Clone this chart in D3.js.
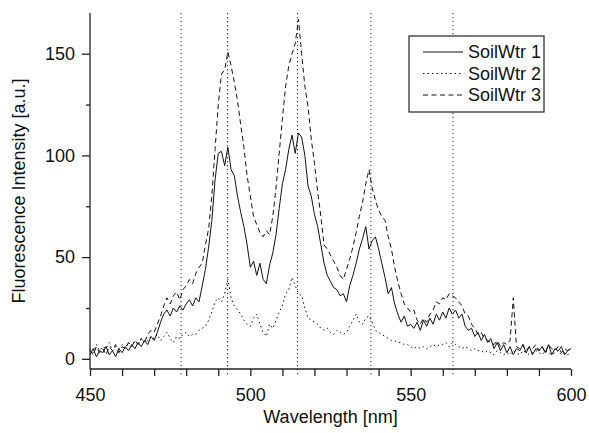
<!DOCTYPE html>
<html>
<head>
<meta charset="utf-8">
<script src="https://cdn.jsdelivr.net/npm/d3@7"></script>
<style>
  body { margin: 0; background: #fff; }
  text { font-family: "Liberation Sans", Arial, Helvetica, sans-serif; fill: #111; }
</style>
</head>
<body>
<div class="chart"></div>
<script>
// Data (wavelength grid 450..600 nm, 1 nm step)
const wavelength = d3.range(450, 601, 1);

const soilWtr1 = [
    2, 5, 1, 4, 3, 6, 2, 4, 1, 5,
    3, 6, 4, 7, 5, 8, 6, 9, 7, 11,
    9, 13, 18, 22, 24, 21, 25, 23, 26, 24,
    27, 29, 26, 30, 28, 36, 44, 55, 68, 88,
    101, 102, 95, 104, 93, 90, 80, 72, 65, 56,
    45, 48, 41, 47, 39, 37, 46, 52, 61, 74,
    86, 93, 103, 110, 101, 111, 109, 100, 85, 80,
    71, 65, 56, 47, 41, 38, 35, 34, 31, 32,
    28, 36, 41, 47, 54, 59, 65, 54, 58, 60,
    54, 47, 40, 32, 35, 27, 22, 18, 21, 16,
    17, 15, 18, 14, 19, 16, 20, 17, 22, 19,
    23, 20, 25, 22, 24, 20, 22, 16, 14, 15,
    11, 13, 9, 12, 8, 10, 5, 8, 4, 7,
    3, 6, 2, 5, 4, 7, 3, 6, 2, 5,
    4, 6, 3, 7, 2, 5, 4, 6, 2, 4,
    5
];

const soilWtr2 = [
    5, 3, 7, 4, 6, 5, 8, 4, 6, 5,
    7, 5, 8, 6, 9, 7, 10, 8, 9, 11,
    10, 12, 9, 11, 13, 10, 8, 11, 10, 12,
    13, 11, 12, 12, 14, 15, 16, 19, 23, 28,
    30, 28, 32, 39, 30, 26, 24, 22, 19, 17,
    16, 20, 22, 17, 13, 11, 17, 15, 19, 23,
    26, 32, 34, 40, 36, 32, 31, 25, 20, 19,
    18, 17, 15, 14, 15, 13, 12, 14, 13, 12,
    13, 16, 19, 22, 18, 17, 20, 21, 18, 14,
    13, 12, 11, 10, 9, 9, 8, 8, 7, 7,
    6, 5, 6, 5, 6, 5, 6, 7, 6, 7,
    7, 8, 6, 8, 7, 6, 5, 6, 5, 4,
    5, 4, 4, 3, 4, 3, 2, 4, 3, 2,
    3, 2, 4, 3, 2, 4, 3, 2, 3, 4,
    3, 2, 4, 3, 2, 3, 4, 2, 3, 2,
    3
];

const soilWtr3 = [
    4, 2, 6, 3, 5, 2, 6, 4, 7, 3,
    6, 5, 8, 6, 9, 7, 10, 8, 12, 14,
    13, 17, 21, 26, 30, 27, 31, 33, 29, 34,
    36, 39, 37, 42, 45, 47, 56, 64, 80, 103,
    125, 140, 142, 151, 144, 136, 127, 115, 104, 90,
    80, 70, 66, 62, 60, 63, 61, 70, 84, 101,
    118, 134, 144, 150, 155, 167, 150, 134, 124, 108,
    96, 82, 70, 56, 54, 51, 48, 45, 41, 39,
    44, 49, 55, 62, 70, 77, 86, 93, 84, 78,
    73, 70, 68, 60, 54, 45, 38, 32, 27, 25,
    23, 24, 19, 17, 20, 18, 22, 24, 28, 27,
    30, 29, 32, 31, 30, 28, 26, 22, 21, 17,
    15, 12, 13, 10, 9, 8, 7, 9, 6, 8,
    7, 9, 30, 6, 5, 7, 4, 6, 5, 7,
    4, 6, 3, 7, 5, 4, 6, 3, 5, 4,
    6
];

const seriesNames = ["SoilWtr 1", "SoilWtr 2", "SoilWtr 3"];
const seriesDash  = [null, "1.5,3", "5,3.5"];

// vertical reference lines (nm)
const markers = [478.4, 492.9, 514.7, 537.6, 563.2];

const xTicks = [450, 500, 550, 600];
const yTicks = [0, 50, 100, 150];

// Constants
const W = 589, H = 433;
const margin = { top: 13, right: 18, bottom: 64, left: 90 },
    width = W - margin.left - margin.right,
    height = H - margin.top - margin.bottom;

const x = d3.scaleLinear().domain([450, 600]).range([0, width]);
const y = d3.scaleLinear().domain([-5, 170]).range([height, 0]);

const svg = d3.select(".chart").append("svg")
    .attr("width", W)
    .attr("height", H)
    .append("g")
    .attr("transform", "translate(" + margin.left + "," + margin.top + ")");

// reference lines
svg.selectAll(".marker")
    .data(markers)
    .enter().append("line")
    .attr("class", "marker")
    .attr("x1", d => x(d)).attr("x2", d => x(d))
    .attr("y1", 0).attr("y2", height + 7)
    .attr("stroke", "#222")
    .attr("stroke-width", 1)
    .attr("stroke-dasharray", "1.2,2.8");

// spectra
const allSeries = [soilWtr1, soilWtr2, soilWtr3];
const line = d3.line()
    .x((d, i) => x(wavelength[i]))
    .y(d => y(d));

svg.selectAll(".spec")
    .data(allSeries)
    .enter().append("path")
    .attr("class", "spec")
    .attr("d", d => line(d))
    .attr("fill", "none")
    .attr("stroke", "#111")
    .attr("stroke-width", 1)
    .attr("stroke-dasharray", (d, i) => seriesDash[i]);

// axes
const xAxis = d3.axisBottom(x)
    .tickValues(d3.range(450, 601, 10))
    .tickSize(7)
    .tickPadding(12)
    .tickFormat(d => xTicks.includes(d) ? d : "");

const yAxis = d3.axisLeft(y)
    .tickValues(d3.range(0, 151, 25))
    .tickSizeOuter(0)
    .tickPadding(9)
    .tickFormat(d => yTicks.includes(d) ? d : "");

const gx = svg.append("g")
    .attr("class", "x axis")
    .attr("transform", "translate(0," + height + ")")
    .call(xAxis);

const gy = svg.append("g")
    .attr("class", "y axis")
    .call(yAxis);

gx.select(".domain").attr("d", "M0,0H" + width);
gy.select(".domain").attr("d", "M0,0V" + height);
gy.selectAll(".tick line").attr("x2", d => yTicks.includes(d) ? -8 : -4);

svg.selectAll(".axis .domain, .axis .tick line")
    .attr("stroke", "#222")
    .attr("stroke-width", 1.3);
svg.selectAll(".axis text")
    .style("font-size", "18px")
    .style("font-family", "'Liberation Sans', Arial, sans-serif")
    .attr("fill", "#111");

// axis titles
svg.append("text")
    .attr("x", width / 2)
    .attr("y", height + 54)
    .style("text-anchor", "middle")
    .style("font-size", "18px")
    .text("Wavelength [nm]");

svg.append("text")
    .attr("transform", "translate(" + (-65) + "," + (height / 2) + ") rotate(-90)")
    .style("text-anchor", "middle")
    .style("font-size", "18px")
    .text("Fluorescence Intensity [a.u.]");

// legend
const legend = svg.append("g")
    .attr("transform", "translate(" + (409 - margin.left) + "," + (36 - margin.top) + ")");

legend.append("rect")
    .attr("width", 135)
    .attr("height", 76)
    .attr("fill", "#fff")
    .attr("stroke", "#222")
    .attr("stroke-width", 1.2);

const item = legend.selectAll(".legend")
    .data(seriesNames)
    .enter().append("g")
    .attr("class", "legend")
    .attr("transform", (d, i) => "translate(0," + (16 + i * 21.5) + ")");

item.append("line")
    .attr("x1", 14).attr("x2", 54)
    .attr("y1", 0).attr("y2", 0)
    .attr("stroke", "#111")
    .attr("stroke-width", 1)
    .attr("stroke-dasharray", (d, i) => seriesDash[i]);

item.append("text")
    .attr("x", 59)
    .attr("dy", "0.35em")
    .style("font-size", "18px")
    .text(d => d);
</script>
</body>
</html>
